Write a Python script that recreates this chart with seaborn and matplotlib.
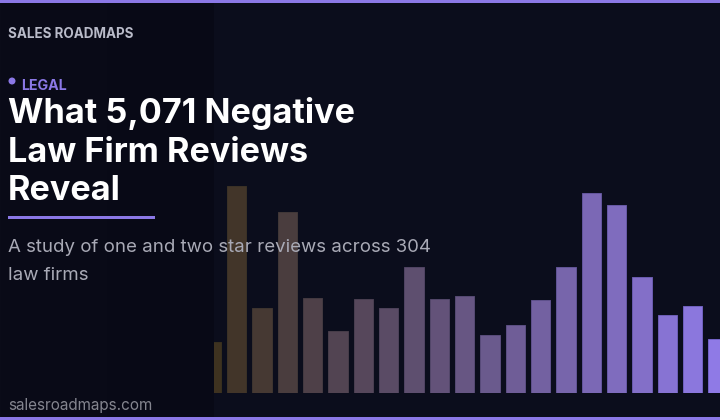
import matplotlib
matplotlib.use("Agg")
import matplotlib.pyplot as plt
import numpy as np
import seaborn as sns

# bar heights
positions = list(range(21))
heights = [51.3, 207.3, 85.3, 181.3, 95.3, 62, 94.6, 85.3, 126, 94.6, 97.3,
           58, 68, 93.3, 126, 200, 188, 116.6, 78.6, 87.3, 54]

brand = ["SALES ROADMAPS"]
tag = "LEGAL"
title = ["What 5,071 Negative", "Law Firm Reviews", "Reveal"]
subtitle = ["A study of one and two star reviews across 304", "law firms"]
site = "salesroadmaps.com"

sns.set_theme(style="white")
plt.rcParams["font.family"] = ["Inter", "DejaVu Sans"]

W, H = 720, 420
PURPLE = "#8b78e6"
BG = "#0b0d1c"

fig = plt.figure(figsize=(W / 100, H / 100), dpi=100, facecolor=BG)

# left panel, gets a bit darker towards its right edge
bgax = fig.add_axes([0, 0, 214 / W, 1])
grad = np.linspace(0, 1, 214).reshape(1, -1)
cmap = sns.blend_palette(["#0a0b18", "#080916"], as_cmap=True)
bgax.imshow(grad, aspect="auto", cmap=cmap, vmin=0, vmax=1)
bgax.axis("off")

# bars live in an axes whose scale is one unit per pixel
base = 393.3
ax = fig.add_axes([214 / W, (H - base) / H, (W - 214) / W, base / H])
ax.patch.set_alpha(0)
pal = sns.blend_palette(["#3e3220", "#8f7ae6"], len(heights))
edges = sns.blend_palette(["#38301f", "#7463c8"], len(heights))
sns.barplot(x=positions, y=heights, hue=positions, palette=pal, legend=False,
            width=0.77, saturation=1, ax=ax, linewidth=0)
# thin darker outline round each bar
for bars, ec in zip(ax.containers, edges):
    for b in bars:
        b.set_edgecolor(ec)
        b.set_linewidth(0.7)
ax.set_xlim(0.107, 20.08)
ax.set_ylim(0, base)
ax.axis("off")

# top and bottom rules
fig.patches.append(plt.Rectangle((0, 1 - 3.4 / H), 1, 3.4 / H, transform=fig.transFigure, color=PURPLE, lw=0))
fig.patches.append(plt.Rectangle((0, 0), 1, 3 / H, transform=fig.transFigure, color=PURPLE, lw=0))


def put(x, y, s, **kw):
    fig.text(x / W, 1 - y / H, s, va="baseline", **kw)


put(8, 38, brand[0], color="#b9bbc9", fontsize=9.7, fontweight="bold")
fig.patches.append(matplotlib.patches.Ellipse((12 / W, 1 - 81 / H), 7 / W, 7 / H,
                                              transform=fig.transFigure, color=PURPLE, lw=0))
put(21, 90, tag, color=PURPLE, fontsize=10.2, fontweight="bold")
for txt, y in zip(title, [123, 161.5, 200]):
    put(8, y, txt, color="white", fontsize=24.6, fontweight="bold")
fig.patches.append(plt.Rectangle((8 / W, 1 - 218.5 / H), 147 / W, 3 / H, transform=fig.transFigure, color=PURPLE, lw=0))
for txt, y in zip(subtitle, [252, 280]):
    put(8, y, txt, color="#a9aab6", fontsize=13.45)
put(8, 410, site, color="#84858f", fontsize=11)

fig.savefig("out.png", dpi=100, facecolor=BG)
